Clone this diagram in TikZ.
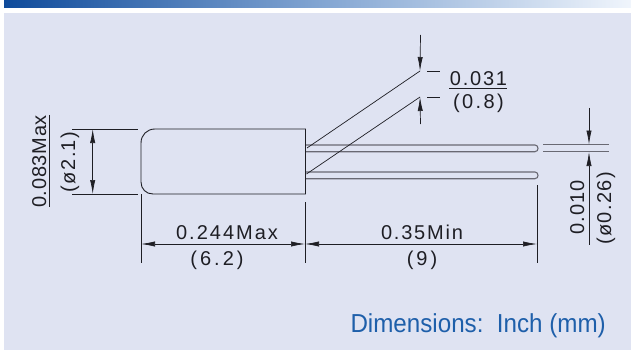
\documentclass[tikz,border=0pt]{standalone}
\usepackage{fontspec}
\setmainfont{Liberation Sans}
\usetikzlibrary{arrows.meta,calc}
\definecolor{panel}{RGB}{223,227,242}
\definecolor{ink}{RGB}{30,30,36}
\definecolor{lead}{RGB}{105,105,115}
\definecolor{capt}{RGB}{30,95,170}
\definecolor{barA}{RGB}{15,75,155}
\definecolor{barB}{RGB}{130,165,210}
\definecolor{barC}{RGB}{240,245,252}
\newcommand{\dimtxt}[2]{{\addfontfeature{LetterSpace=#1}#2}}
\tikzset{
 x=1pt,y=-1pt,
 dim/.style={draw=ink,line width=0.7pt},
 dimarrow/.style={dim,-{Latex[length=14pt,width=5.2pt]}},
 dimboth/.style={dim,{Latex[length=14pt,width=5.2pt]}-{Latex[length=14pt,width=5.2pt]}},
 leadline/.style={draw=lead,line width=1.1pt},
 lbl/.style={font=\fontsize{20}{22}\selectfont,text=ink,inner sep=0pt},
}
\begin{document}
\begin{tikzpicture}
\useasboundingbox (0,0) rectangle (631,350);
\fill[white] (0,0) rectangle (631,350);
\shade[left color=barA,right color=barB,shading angle=90,draw=none] (4,0) rectangle (320,8);
\shade[left color=barB,right color=barC,shading angle=90,draw=none] (320,0) rectangle (631,8);
\fill[panel] (4,13) rectangle (631,350);
% body
\coordinate (bTL) at (155,129);
\coordinate (bTR) at (305.5,129);
\coordinate (bBR) at (305.5,194);
\coordinate (bBL) at (153,194);
\draw[dim,line width=0.9pt] (bTR) -- (bTL) .. controls (147,129) and (141,135) .. (141,143) -- (141,182) .. controls (141,189) and (146,194) .. (bBL) -- (bBR) -- cycle;
% leads
\coordinate (l1s) at (306,145);
\coordinate (l1e) at (535,145);
\coordinate (l2s) at (306,151.7);
\coordinate (l2e) at (535,151.7);
\coordinate (l3s) at (306,172);
\coordinate (l3e) at (535,172);
\coordinate (l4s) at (306,178.7);
\coordinate (l4e) at (535,178.7);
\draw[leadline] (l1s) -- (l1e) .. controls (539,145) and (539,151.7) .. (l2e) -- (l2s);
\draw[leadline] (l3s) -- (l3e) .. controls (539,172) and (539,178.7) .. (l4e) -- (l4s);
% slanted
\coordinate (s1) at (420,71);
\coordinate (s2) at (420,97);
\coordinate (s1b) at (307,148);
\coordinate (s2b) at (306.5,174);
\draw[dim] (s1b) -- (s1);
\draw[dim] (s2b) -- (s2);
\coordinate (a1) at (420.5,35);
\coordinate (a2) at (420.5,124);
\draw[dimarrow] (a1) -- (s1);
\draw[dimarrow] (a2) -- (s2);
\coordinate (t1a) at (427,71); \coordinate (t1b) at (440,71);
\coordinate (t2a) at (427,97); \coordinate (t2b) at (440,97);
\draw[dim] (t1a) -- (t1b);
\draw[dim] (t2a) -- (t2b);
\node[lbl,anchor=base] (n031) at (478.5,86) {\dimtxt{9}{0.031}};
\node[lbl,anchor=base] (n08) at (478.5,108.5) {\dimtxt{12}{(0.8)}};
\coordinate (f1a) at (449,88.5); \coordinate (f1b) at (507,88.5);
\draw[dim] (f1a) -- (f1b);
% left dim
\coordinate (e1a) at (72,129); \coordinate (e1b) at (138,129);
\coordinate (e2a) at (72,194); \coordinate (e2b) at (138,194);
\draw[dim] (e1a) -- (e1b);
\draw[dim] (e2a) -- (e2b);
\coordinate (v1) at (92.7,129); \coordinate (v2) at (92.7,194);
\draw[dimboth] (v1) -- (v2);
\coordinate (f2a) at (49.5,115); \coordinate (f2b) at (49.5,207);
\draw[dim] (f2a) -- (f2b);
\node[lbl,rotate=90,anchor=base] (n083) at (46,161.5) {\dimtxt{3.5}{0.083Max}};
\node[lbl,rotate=90,anchor=base] (n21) at (75,162) {\dimtxt{7}{(ø2.1)}};
% bottom dims
\coordinate (x1a) at (141,194); \coordinate (x1b) at (141,263);
\coordinate (x2a) at (305,202); \coordinate (x2b) at (305,263);
\coordinate (x3a) at (537,185); \coordinate (x3b) at (537,263);
\draw[dim] (x1a) -- (x1b);
\draw[dim] (x2a) -- (x2b);
\draw[dim] (x3a) -- (x3b);
\coordinate (h1) at (141,244); \coordinate (h2) at (305,244); \coordinate (h3) at (537,244);
\draw[dimboth] (h1) -- (h2);
\draw[dimboth] (h2) -- (h3);
\node[lbl,anchor=base] (n244) at (227,239) {\dimtxt{10}{0.244Max}};
\node[lbl,anchor=base] (n62) at (217,265) {\dimtxt{15}{(6.2)}};
\node[lbl,anchor=base] (n35) at (422,239) {\dimtxt{9}{0.35Min}};
\node[lbl,anchor=base] (n9) at (422,265) {\dimtxt{15}{(9)}};
% right dim
\coordinate (r1a) at (543,144.5); \coordinate (r1b) at (609,144.5);
\coordinate (r2a) at (543,151.7); \coordinate (r2b) at (609,151.7);
\draw[leadline] (r1a) -- (r1b);
\draw[leadline] (r2a) -- (r2b);
\coordinate (ra1) at (589,108); \coordinate (ra2) at (589,144.5);
\coordinate (ra3) at (589,172); \coordinate (ra4) at (589,152);
\draw[dimarrow] (ra1) -- (ra2);
\draw[dimarrow] (ra3) -- (ra4);
\coordinate (f3a) at (589,172); \coordinate (f3b) at (589,245);
\draw[dim] (f3a) -- (f3b);
\node[lbl,rotate=90,anchor=base] (n010) at (584,207.5) {\dimtxt{6}{0.010}};
\node[lbl,rotate=90,anchor=base] (n026) at (611,208.5) {\dimtxt{7}{(ø0.26)}};
% caption
\node[anchor=base east,inner sep=0pt,text=capt,font=\fontsize{26}{28}\selectfont] (cap) at (606,332.5) {\scalebox{0.93}[1]{Dimensions:~~Inch (mm)}};
\end{tikzpicture}
\end{document}
